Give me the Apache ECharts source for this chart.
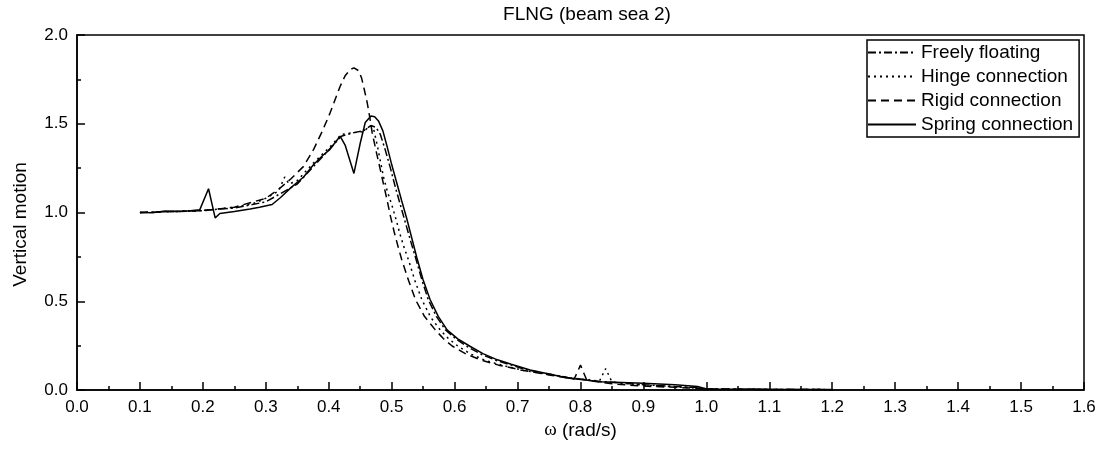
<!DOCTYPE html>
<html>
<head>
<meta charset="utf-8">
<script src="https://cdn.jsdelivr.net/npm/echarts@6/dist/echarts.min.js"></script>
<style>
html,body{margin:0;padding:0;background:#fff;}
#chart{width:1102px;height:450px;}
</style>
</head>
<body>
<div id="chart"></div>
<script>
const seriesNames = ['Freely floating', 'Hinge connection', 'Rigid connection', 'Spring connection'];
const xTicks = [0, 1.6, 0.1];
const yTicks = [0, 2.0, 0.5];

const freelyFloating = [
  [0.10,1.000],[0.15,1.005],[0.20,1.012],[0.25,1.025],[0.30,1.060],[0.32,1.100],
  [0.35,1.160],[0.376,1.260],[0.402,1.360],[0.42,1.430],[0.44,1.450],[0.455,1.460],
  [0.467,1.490],[0.475,1.480],[0.482,1.440],[0.49,1.350],[0.498,1.250],[0.506,1.140],
  [0.514,1.040],[0.522,0.940],[0.53,0.840],[0.538,0.745],[0.548,0.620],[0.558,0.510],
  [0.571,0.415],[0.585,0.340],[0.603,0.285],[0.622,0.240],[0.643,0.200],[0.665,0.168],
  [0.69,0.140],[0.715,0.113],[0.75,0.090],[0.78,0.070],[0.83,0.048],[0.90,0.030],
  [0.95,0.020],[0.98,0.015],[1.00,0.006],[1.10,0.003],[1.20,0.002]
];
const hingeConnection = [
  [0.10,1.000],[0.15,1.005],[0.20,1.010],[0.25,1.030],[0.28,1.050],[0.30,1.080],
  [0.32,1.120],[0.33,1.200],[0.337,1.160],[0.35,1.180],[0.376,1.280],[0.402,1.370],
  [0.42,1.440],[0.44,1.450],[0.455,1.455],[0.466,1.490],[0.471,1.475],[0.477,1.380],
  [0.482,1.290],[0.487,1.200],[0.493,1.120],[0.50,1.045],[0.507,0.960],[0.513,0.880],
  [0.52,0.800],[0.527,0.730],[0.537,0.615],[0.548,0.508],[0.562,0.410],[0.577,0.339],
  [0.59,0.290],[0.606,0.245],[0.627,0.200],[0.65,0.165],[0.68,0.135],[0.71,0.110],
  [0.78,0.070],[0.83,0.050],[0.84,0.120],[0.85,0.045],[0.90,0.028],[0.95,0.018],
  [1.00,0.007],[1.10,0.003],[1.20,0.002]
];
const rigidConnection = [
  [0.10,1.000],[0.15,1.005],[0.20,1.010],[0.25,1.030],[0.28,1.060],[0.30,1.080],
  [0.32,1.130],[0.34,1.190],[0.36,1.260],[0.376,1.356],[0.39,1.460],[0.402,1.560],
  [0.41,1.635],[0.418,1.710],[0.426,1.770],[0.434,1.805],[0.44,1.815],[0.447,1.800],
  [0.452,1.760],[0.456,1.700],[0.461,1.620],[0.465,1.540],[0.469,1.450],[0.475,1.350],
  [0.482,1.240],[0.487,1.160],[0.4925,1.073],[0.498,0.980],[0.504,0.890],[0.51,0.810],
  [0.516,0.734],[0.527,0.615],[0.538,0.508],[0.552,0.415],[0.569,0.340],[0.582,0.290],
  [0.596,0.248],[0.617,0.205],[0.641,0.170],[0.67,0.140],[0.705,0.113],[0.75,0.085],
  [0.79,0.062],[0.80,0.140],[0.81,0.055],[0.85,0.035],[0.90,0.022],[0.95,0.015],
  [1.00,0.006],[1.10,0.003],[1.20,0.002]
];
const springConnection = [
  [0.10,1.000],[0.12,0.998],[0.14,1.008],[0.16,1.005],[0.18,1.010],[0.195,1.015],
  [0.209,1.134],[0.2195,0.970],[0.227,0.994],[0.25,1.005],[0.275,1.020],[0.29,1.030],
  [0.31,1.045],[0.323,1.083],[0.34,1.140],[0.36,1.200],[0.376,1.270],[0.39,1.320],
  [0.402,1.356],[0.418,1.430],[0.426,1.380],[0.44,1.220],[0.45,1.390],[0.458,1.507],
  [0.467,1.544],[0.473,1.540],[0.479,1.516],[0.486,1.460],[0.4925,1.375],[0.50,1.270],
  [0.508,1.168],[0.516,1.065],[0.524,0.965],[0.532,0.855],[0.54,0.745],[0.55,0.620],
  [0.561,0.510],[0.574,0.415],[0.588,0.339],[0.605,0.288],[0.625,0.245],[0.645,0.205],
  [0.668,0.170],[0.69,0.145],[0.72,0.113],[0.75,0.090],[0.779,0.068],[0.832,0.047],
  [0.90,0.038],[0.95,0.030],[0.986,0.020],[1.00,0.006],[1.10,0.004],[1.20,0.003]
];

const seriesData = [freelyFloating, hingeConnection, rigidConnection, springConnection];
const lineTypes = [[8,3,2,3], [2,4], [8,5], 'solid'];

const font = 'Liberation Sans, Arial, sans-serif';
const chart = echarts.init(document.getElementById('chart'), null, {renderer: 'canvas'});

const axisCommon = {
  axisLine: {show: true, lineStyle: {color: '#000', width: 1.5}},
  axisTick: {show: true, inside: true, length: 8, lineStyle: {color: '#000', width: 1.5}},
  minorTick: {show: true, splitNumber: 2, length: 4, lineStyle: {color: '#000', width: 1.5}},
  splitLine: {show: false},
  minorSplitLine: {show: false},
  axisLabel: {color: '#000', fontSize: 17, fontFamily: font, margin: 9, formatter: v => v.toFixed(1)}
};

chart.setOption({
  animation: false,
  backgroundColor: '#fff',
  title: {
    text: 'FLNG (beam sea 2)',
    left: 587, top: 5, padding: 0, textAlign: 'center',
    textStyle: {color: '#000', fontSize: 19, fontWeight: 'normal', fontFamily: font}
  },
  grid: {
    left: 77, right: 18, top: 35, bottom: 60,
    show: true, borderColor: '#000', borderWidth: 1.5, backgroundColor: 'transparent'
  },
  legend: {
    orient: 'vertical', left: 867, top: 40,
    padding: [3, 6, 3, 0], itemGap: 5, itemWidth: 48, itemHeight: 14,
    borderColor: '#000', borderWidth: 1.5, backgroundColor: '#fff',
    itemStyle: {opacity: 0},
    textStyle: {color: '#000', fontSize: 19, fontFamily: font},
    data: seriesNames
  },
  xAxis: Object.assign({}, axisCommon, {
    type: 'value', min: xTicks[0], max: xTicks[1], interval: xTicks[2],
    name: '{w|ω} (rad/s)', nameLocation: 'middle', nameGap: 30,
    nameTextStyle: {color: '#000', fontSize: 19, fontFamily: font,
      rich: {w: {fontFamily: 'Liberation Serif, Times New Roman, serif', fontSize: 19, color: '#000'}}}
  }),
  yAxis: Object.assign({}, axisCommon, {
    type: 'value', min: yTicks[0], max: yTicks[1], interval: yTicks[2],
    name: 'Vertical motion', nameLocation: 'middle', nameGap: 47,
    nameTextStyle: {color: '#000', fontSize: 19, fontFamily: font, padding: [0, 24, 0, 0]}
  }),
  series: seriesNames.map((n, i) => ({
    name: n, type: 'line', data: seriesData[i],
    showSymbol: false, symbol: 'none', smooth: false,
    lineStyle: {color: '#000', width: 1.5, type: lineTypes[i]},
    itemStyle: {color: '#000'}
  }))
});
</script>
</body>
</html>
